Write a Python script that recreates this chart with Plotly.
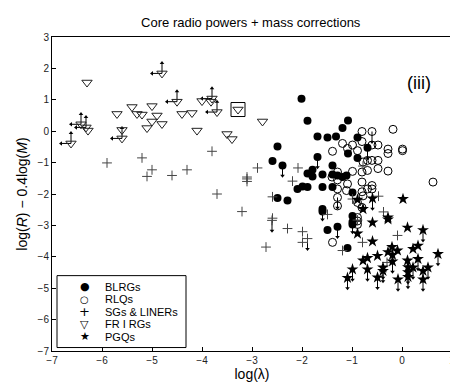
import plotly.graph_objects as go

# ---- data ----
# BLRGs: filled circles, (x, y, upper-limit arrow)
blrg_x = [-2.01, -1.89, -1.69, -1.49, -1.32, -1.19, -1.08, -2.49, -2.59, -2.39,
          -1.69, -1.79, -1.89, -1.79, -1.59, -1.39, -1.39, -2.09, -1.99, -1.89,
          -1.59, -1.39, -2.49, -2.29, -1.59, -1.59, -0.89, -0.69, -1.08, -0.89,
          -1.29, -1.19, -1.11, -0.99, -0.99, -0.99, -1.29, -1.49, -1.09, -0.99]
blrg_y = [1.03, 0.33, -0.17, -0.20, -0.17, 0.10, 0.34, -0.49, -0.95, -1.09,
          -0.82, -1.23, -1.35, -1.44, -1.38, -1.38, -1.09, -1.84, -1.76, -1.78,
          -1.78, -1.78, -2.13, -2.21, -2.48, -2.56, -0.20, -0.53, -0.71, -0.85,
          -1.41, -1.46, -1.41, -1.95, -2.70, -2.97, -3.04, -3.15, -3.72, -2.89]
blrg_lim = [0, 0, 0, 0, 0, 0, 0, 0, 0, 1,
            1, 0, 0, 0, 0, 0, 0, 0, 0, 0,
            0, 0, 0, 0, 1, 0, 0, 1, 0, 0,
            0, 0, 0, 0, 1, 0, 1, 0, 0, 1]

# RLQs: open circles
rlq_x = [-0.80, -0.60, -0.18, -1.19, -1.39, -1.09, -0.99, -0.80, -0.60, -0.48,
         -0.89, -0.28, -0.28, 0.01, 0.01, -0.69, -0.60, -0.48, -0.78, -0.48,
         -0.28, -0.80, -0.69, -0.99, -1.40, -1.29, -1.29, -0.80, -0.60, -0.60,
         -0.69, -1.09, -1.29, -1.11, -0.80, -1.29, -0.78, -0.80, -0.89, -0.89,
         -1.29, -0.89, -0.89, -1.39, 0.62]
rlq_y = [-0.01, -0.01, 0.06, -0.39, -0.64, -0.55, -0.44, -0.33, -0.44, -0.44,
         -0.62, -0.57, -0.71, -0.57, -0.62, -0.93, -0.93, -0.93, -0.98, -1.19,
         -1.27, -1.30, -1.25, -1.28, -1.46, -1.30, -1.55, -1.62, -1.73, -1.84,
         -1.84, -1.68, -1.84, -1.89, -1.93, -2.11, -2.06, -2.43, -2.27, -2.75,
         -2.38, -2.86, -2.97, -3.54, -1.62]
rlq_lim = [0, 1, 0, 0, 0, 0, 0, 0, 0, 0,
           0, 0, 0, 0, 0, 0, 0, 0, 0, 0,
           0, 0, 0, 0, 0, 0, 0, 0, 0, 0,
           0, 0, 0, 0, 0, 1, 0, 0, 0, 0,
           0, 0, 0, 0, 0]

# SGs & LINERs: plus signs
sg_x = [-5.90, -5.20, -5.00, -5.10, -4.60, -4.30, -3.80, -3.10, -2.89, -3.10,
        -3.10, -3.70, -3.20, -2.72, -2.08, -2.19, -2.59, -2.59, -2.60, -2.29,
        -1.99, -1.89, -1.99, -1.49, -0.78, -0.99, -0.47, -0.37, -0.09, -0.79,
        -1.19, -0.30, -0.89]
sg_y = [-1.01, -0.85, -1.23, -1.44, -1.41, -1.23, -0.64, -1.46, -1.17, -1.52,
        -1.60, -2.00, -2.56, -3.69, -1.17, -1.59, -2.09, -2.77, -2.84, -3.10,
        -3.20, -3.42, -3.54, -2.65, -1.11, -2.16, -2.07, -2.57, -3.32, -3.54,
        -3.80, -4.18, -2.83]
sg_lim = [0, 0, 0, 0, 0, 0, 0, 0, 0, 0,
          0, 0, 0, 0, 0, 0, 0, 0, 1, 0,
          0, 1, 0, 0, 0, 0, 0, 0, 0, 0,
          0, 0, 0]

# FR I RGs: open down-triangles; up = lower limit in y, left = upper limit in x
fr_x = [-6.30, -4.80, -4.50, -4.00, -3.80, -3.82, -3.70, -3.28, -5.40, -5.00,
        -5.70, -5.30, -5.20, -4.90, -5.00, -4.80, -5.10, -4.40, -4.20, -4.10,
        -3.50, -3.40, -5.60, -5.60, -6.42, -6.32, -6.28, -6.62, -2.79]
fr_y = [1.55, 1.84, 0.94, 0.96, 1.04, 0.94, 0.61, 0.69, 0.77, 0.80,
        0.55, 0.55, 0.53, 0.50, 0.31, 0.23, 0.10, 0.55, 0.58, 0.02,
        -0.09, -0.25, 0.04, -0.23, 0.22, 0.12, 0.02, -0.39, 0.31]
fr_up = [0, 1, 1, 0, 1, 0, 1, 0, 0, 0,
         0, 0, 0, 0, 0, 0, 0, 0, 0, 0,
         0, 0, 0, 1, 1, 1, 0, 1, 0]
fr_left = [0, 1, 1, 0, 1, 0, 1, 0, 0, 0,
           0, 0, 0, 0, 0, 0, 0, 0, 0, 0,
           0, 0, 0, 1, 1, 1, 0, 1, 0]
fr_boxed = [7]

# PGQs: filled stars
pgq_x = [-0.59, -0.28, 0.11, 0.42, -0.89, -0.59, -0.20, -0.28, -0.09, -0.19,
         -0.19, 0.22, 0.32, -0.49, -0.69, -0.78, 0.11, 0.32, 0.72, -0.99,
         -0.69, -0.38, -0.38, 0.12, 0.12, 0.22, 0.42, 0.52, -1.09, -0.49,
         -0.08, 0.42, 0.12, 0.02, -0.89, -0.78, -0.28, -0.59]
pgq_y = [-2.91, -2.81, -3.07, -3.15, -3.26, -3.51, -3.69, -3.85, -3.80, -3.94,
         -4.15, -3.75, -3.65, -3.97, -4.04, -4.12, -4.12, -4.07, -3.91, -4.40,
         -4.40, -4.34, -4.45, -4.33, -4.49, -4.34, -4.45, -4.34, -4.67, -4.66,
         -4.72, -4.72, -4.64, -2.16, -2.18, -2.48, -2.75, -2.14]
pgq_lim = [0, 0, 0, 1, 0, 0, 0, 0, 0, 0,
           1, 0, 0, 0, 0, 0, 1, 1, 1, 1,
           1, 1, 1, 1, 1, 1, 1, 1, 1, 1,
           1, 1, 1, 0, 0, 0, 0, 1]

x_ticks = [-7, -6, -5, -4, -3, -2, -1, 0, 1]
y_ticks = [3, 2, 1, 0, -1, -2, -3, -4, -5, -6, -7]

legend_names = ["BLRGs", "RLQs", "SGs & LINERs", "FR I RGs", "PGQs"]
legend_glyphs = ["\u25cf", "\u25cb", "+", "\u25bd", "\u2605"]

DOWN = 0.33   # arrow length in y units
UP = 0.33
LEFT = 0.2    # arrow length in x units
FONT = "Liberation Sans, Arial, Helvetica, sans-serif"


def arrow_traces(xs, ys, flags, dx, dy, head):
    lx, ly, hx, hy = [], [], [], []
    for x, y, f in zip(xs, ys, flags):
        if not f:
            continue
        lx += [x, x + dx, None]
        ly += [y, y + dy, None]
        hx.append(x + dx)
        hy.append(y + dy)
    line = go.Scatter(x=lx, y=ly, mode="lines", line=dict(color="black", width=1),
                      showlegend=False, hoverinfo="skip")
    tip = go.Scatter(x=hx, y=hy, mode="markers", showlegend=False, hoverinfo="skip",
                     marker=dict(symbol=head, size=4, color="black"))
    return [line, tip]


fig = go.Figure()

for xs, ys, fl in [(blrg_x, blrg_y, blrg_lim), (rlq_x, rlq_y, rlq_lim),
                   (sg_x, sg_y, sg_lim), (pgq_x, pgq_y, pgq_lim)]:
    for t in arrow_traces(xs, ys, fl, 0, -DOWN, "triangle-down"):
        fig.add_trace(t)
for t in arrow_traces(fr_x, fr_y, fr_up, 0, UP, "triangle-up"):
    fig.add_trace(t)
for t in arrow_traces(fr_x, fr_y, fr_left, -LEFT, 0, "triangle-left"):
    fig.add_trace(t)

fig.add_trace(go.Scatter(
    x=blrg_x, y=blrg_y, mode="markers", name="BLRGs",
    marker=dict(symbol="circle", size=8, color="black", line=dict(width=0)),
))
fig.add_trace(go.Scatter(
    x=rlq_x, y=rlq_y, mode="markers", name="RLQs",
    marker=dict(symbol="circle-open", size=8, color="black", line=dict(width=1)),
))
fig.add_trace(go.Scatter(
    x=sg_x, y=sg_y, mode="markers", name="SGs & LINERs",
    marker=dict(symbol="cross-thin-open", size=7, color="#444", line=dict(width=1, color="#444")),
))
fig.add_trace(go.Scatter(
    x=fr_x, y=fr_y, mode="markers", name="FR I RGs",
    marker=dict(symbol="triangle-down-open", size=9, color="#222", line=dict(width=1)),
))
fig.add_trace(go.Scatter(
    x=[fr_x[i] for i in fr_boxed], y=[fr_y[i] for i in fr_boxed], mode="markers",
    showlegend=False, hoverinfo="skip",
    marker=dict(symbol="square-open", size=14, color="black", line=dict(width=1)),
))
fig.add_trace(go.Scatter(
    x=pgq_x, y=pgq_y, mode="markers", name="PGQs",
    marker=dict(symbol="star", size=9, color="black", line=dict(width=0)),
))

fig.add_annotation(x=0.33, y=1.53, text="(iii)", showarrow=False,
                   font=dict(size=18, color="black", family=FONT))

# compact MATLAB-style legend box in the lower-left corner
fig.add_shape(type="rect", xref="paper", yref="paper", x0=0.0125, x1=0.335,
              y0=0.011, y1=0.24, line=dict(color="black", width=1),
              fillcolor="white", layer="above")
glyph_sizes = [11, 10, 13, 11, 11]
for i, (name, glyph) in enumerate(zip(legend_names, legend_glyphs)):
    yy = 0.205 - 0.04 * i
    fig.add_annotation(xref="paper", yref="paper", x=0.082, y=yy, text=glyph,
                       showarrow=False, xanchor="center", yanchor="middle",
                       font=dict(size=glyph_sizes[i], color="black", family="DejaVu Sans"))
    fig.add_annotation(xref="paper", yref="paper", x=0.1275, y=yy, text=name,
                       showarrow=False, xanchor="left", yanchor="middle",
                       font=dict(size=11, color="black", family=FONT))

axis = dict(showgrid=False, zeroline=False, showline=True, linecolor="black",
            linewidth=1, mirror=True, ticks="inside", ticklen=4, tickcolor="black",
            tickfont=dict(size=10, color="#222", family=FONT))

fig.update_layout(
    width=458, height=388,
    margin=dict(l=44, r=14, t=29, b=45),
    paper_bgcolor="white", plot_bgcolor="white",
    font=dict(family=FONT, color="black"),
    showlegend=False,
    title=dict(text="Core radio powers + mass corrections", x=0.53, xanchor="center",
               y=0.975, yanchor="top", font=dict(size=13, color="black")),
    xaxis=dict(axis, range=[-7, 1], tickvals=x_ticks,
               ticktext=[str(v).replace("-", "\u2212") for v in x_ticks],
               title=dict(text="log(\u03bb)", font=dict(size=14), standoff=4)),
    yaxis=dict(axis, range=[-7, 3], tickvals=y_ticks,
               ticktext=[str(v).replace("-", "\u2212") for v in y_ticks],
               title=dict(text="log(<i>R</i>) \u2212 0.4log(<i>M</i>)", font=dict(size=14), standoff=6)),
)

fig.write_html("out.html")
